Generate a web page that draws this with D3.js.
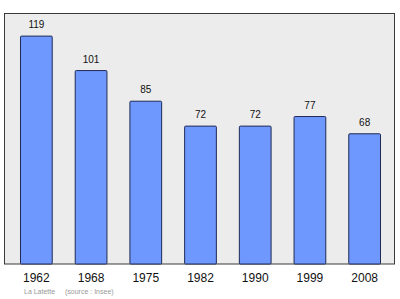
<!DOCTYPE html>
<html>
<head>
<meta charset="utf-8">
<script src="https://cdn.jsdelivr.net/npm/d3@7"></script>
<style>
  body { margin: 0; background: #fff; }
  svg { display: block; }
</style>
</head>
<body>
<div id="chart"></div>
<script>
// population by census year
const years = ["1962", "1968", "1975", "1982", "1990", "1999", "2008"];
const population = [119, 101, 85, 72, 72, 77, 68];
const footLeft = "La Latette";
const footRight = "(source : Insee)";

const width = 400, height = 299;
const frame = { left: 4.5, top: 13.5, right: 394.5, bottom: 264 };

const svg = d3.select("#chart")
  .append("svg")
  .attr("width", width)
  .attr("height", height);

// plot background + frame
svg.append("rect")
  .attr("x", frame.left)
  .attr("y", frame.top)
  .attr("width", frame.right - frame.left)
  .attr("height", frame.bottom - frame.top)
  .attr("fill", "#ececec")
  .attr("stroke", "#3a3a3a")
  .attr("stroke-width", 1);

const x = d3.scaleBand()
  .domain(years)
  .range([9, 392])
  .paddingInner(0.42)
  .paddingOuter(0.21);

const y = d3.scaleLinear()
  .domain([0, 130.8])
  .range([frame.bottom, frame.top]);

// bars
svg.selectAll(".bar")
  .data(years)
  .enter()
  .append("rect")
  .attr("class", "bar")
  .attr("x", (d) => x(d))
  .attr("y", (d, i) => y(population[i]))
  .attr("width", x.bandwidth())
  .attr("height", (d, i) => frame.bottom - y(population[i]))
  .attr("rx", 1)
  .attr("fill", "#6f98ff")
  .attr("stroke", "#1f2a55")
  .attr("stroke-width", 1);

// value labels
svg.selectAll(".val")
  .data(years)
  .enter()
  .append("text")
  .attr("x", (d) => x(d) + x.bandwidth() / 2)
  .attr("y", (d, i) => y(population[i]) - 8)
  .attr("text-anchor", "middle")
  .attr("font-family", "Liberation Sans, Arial, sans-serif")
  .attr("font-size", "10px")
  .attr("fill", "#111")
  .text((d, i) => population[i]);

// x axis labels
const xAxis = svg.append("g")
  .attr("transform", `translate(0,${frame.bottom})`)
  .call(d3.axisBottom(x).tickSize(0).tickPadding(9));
xAxis.select(".domain").remove();
xAxis.selectAll("text")
  .attr("font-family", "Liberation Sans, Arial, sans-serif")
  .attr("font-size", "12px")
  .attr("fill", "#111");

// footnote
svg.append("text")
  .attr("x", 24)
  .attr("y", 294)
  .attr("font-family", "Liberation Sans, Arial, sans-serif")
  .attr("font-size", "7px")
  .attr("fill", "#999")
  .text(footLeft);
svg.append("text")
  .attr("x", 65)
  .attr("y", 294)
  .attr("font-family", "Liberation Sans, Arial, sans-serif")
  .attr("font-size", "7px")
  .attr("fill", "#999")
  .text(footRight);
</script>
</body>
</html>
